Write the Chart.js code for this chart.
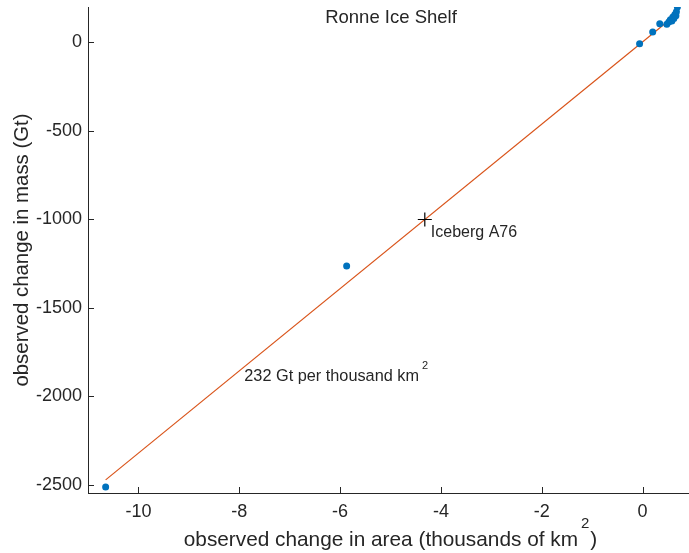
<!DOCTYPE html>
<html>
<head>
<meta charset="utf-8">
<script src="https://cdn.jsdelivr.net/npm/chart.js@4"></script>
<style>
  html, body { margin: 0; padding: 0; background: #fff; }
  canvas { display: block; }
</style>
</head>
<body>
<canvas id="iceChart" width="689" height="553"></canvas>
<script>
// observed changes, Ronne Ice Shelf
const areaChange = [-10.65, -5.87, -0.06, 0.20, 0.34, 0.48, 0.52, 0.55, 0.58, 0.60, 0.62, 0.64, 0.66, 0.67, 0.69];
const massChange = [-2511, -1264, -11, 56, 102, 100, 112, 125, 118, 140, 132, 155, 148, 170, 197];

// fitted line, 232 Gt per thousand km^2
const fitX = [-10.65, 0.69];
const fitY = [-2471, 160];

// iceberg A76
const bergX = [-4.32];
const bergY = [-1002];

const xTicks = [-10, -8, -6, -4, -2, 0];
const yTicks = [-2500, -2000, -1500, -1000, -500, 0];

const FONT = '"Liberation Sans", Arial, Helvetica, sans-serif';
const INK = '#262626';

function toPts(xs, ys) {
    return xs.map((x, i) => ({ x: x, y: ys[i] }));
}

// text with a trailing superscript
function drawSup(ctx, main, sup, tail, x, y, size, raise, align) {
    const supSize = Math.round(size * 0.7);
    ctx.font = size + 'px ' + FONT;
    const w1 = ctx.measureText(main).width + 3;
    const w3 = tail ? ctx.measureText(tail).width : 0;
    ctx.font = supSize + 'px ' + FONT;
    const w2 = ctx.measureText(sup).width + 1;
    const total = w1 + w2 + w3;
    let x0 = align === 'center' ? x - total / 2 : x;
    ctx.textAlign = 'left';
    ctx.textBaseline = 'middle';
    ctx.font = size + 'px ' + FONT;
    ctx.fillText(main, x0, y);
    ctx.font = supSize + 'px ' + FONT;
    ctx.fillText(sup, x0 + w1, y - raise);
    if (tail) {
        ctx.font = size + 'px ' + FONT;
        ctx.fillText(tail, x0 + w1 + w2, y);
    }
}

function noPad(s) {
    s.paddingTop = 0;
    s.paddingBottom = 0;
    s.paddingLeft = 0;
    s.paddingRight = 0;
}

const decorations = {
    id: 'decorations',
    afterDraw(chart) {
        const ctx = chart.ctx;
        const xs = chart.scales.x, ys = chart.scales.y;
        const area = chart.chartArea;
        ctx.save();
        // inward ticks
        ctx.strokeStyle = INK;
        ctx.lineWidth = 1;
        ctx.beginPath();
        xTicks.forEach(v => {
            const px = Math.round(xs.getPixelForValue(v)) + 0.5;
            ctx.moveTo(px, area.bottom);
            ctx.lineTo(px, area.bottom - 6);
        });
        yTicks.forEach(v => {
            const py = Math.round(ys.getPixelForValue(v)) + 0.5;
            ctx.moveTo(area.left, py);
            ctx.lineTo(area.left + 6, py);
        });
        ctx.stroke();

        ctx.fillStyle = INK;
        // title
        ctx.font = '18.5px ' + FONT;
        ctx.textAlign = 'center';
        ctx.textBaseline = 'middle';
        ctx.fillText('Ronne Ice Shelf', 391, 17.5);

        // y title
        ctx.save();
        ctx.translate(22, (area.top + area.bottom) / 2);
        ctx.rotate(-Math.PI / 2);
        ctx.font = '20.4px ' + FONT;
        ctx.textAlign = 'center';
        ctx.textBaseline = 'middle';
        ctx.fillText('observed change in mass (Gt)', 0, 0);
        ctx.restore();

        // x title
        drawSup(ctx, 'observed change in area (thousands of km', '2', ')',
            (area.left + area.right) / 2 + 2, 540, 20.8, 16, 'center');

        // annotations
        drawSup(ctx, '232 Gt per thousand km', '2', '',
            xs.getPixelForValue(-7.9), ys.getPixelForValue(-1888), 16.3, 11, 'left');
        ctx.font = '16px ' + FONT;
        ctx.textAlign = 'left';
        ctx.textBaseline = 'middle';
        ctx.fillText('Iceberg A76', xs.getPixelForValue(-4.20), ys.getPixelForValue(-1075));
        ctx.restore();
    }
};

new Chart(document.getElementById('iceChart'), {
    type: 'scatter',
    data: {
        datasets: [{
            label: 'fit',
            data: toPts(fitX, fitY),
            showLine: true,
            borderColor: '#D95319',
            borderWidth: 1.2,
            pointRadius: 0,
            order: 2
        }, {
            label: 'observations',
            data: toPts(areaChange, massChange),
            backgroundColor: '#0072BD',
            borderColor: '#0072BD',
            pointRadius: 3.5,
            borderWidth: 0,
            order: 1
        }, {
            label: 'Iceberg A76',
            data: toPts(bergX, bergY),
            pointStyle: 'cross',
            pointRadius: 7,
            borderColor: '#000',
            borderWidth: 1.2,
            order: 0
        }]
    },
    options: {
        responsive: false,
        animation: false,
        events: [],
        layout: { autoPadding: false, padding: { top: 7, right: 0, left: 0, bottom: 0 } },
        plugins: {
            legend: { display: false },
            tooltip: { enabled: false }
        },
        scales: {
            x: {
                type: 'linear',
                min: -11,
                max: 0.92,
                afterBuildTicks: s => { s.ticks = xTicks.map(v => ({ value: v })); },
                afterFit: s => { s.height = 60; noPad(s); },
                grid: { display: false, drawTicks: false },
                border: { display: true, color: INK, width: 1 },
                ticks: {
                    color: INK, font: { family: FONT, size: 18 }, padding: 8,
                    callback: v => String(v)
                }
            },
            y: {
                type: 'linear',
                min: -2545,
                max: 197,
                afterBuildTicks: s => { s.ticks = yTicks.map(v => ({ value: v })); },
                afterFit: s => { s.width = 88; noPad(s); },
                grid: { display: false, drawTicks: false },
                border: { display: true, color: INK, width: 1 },
                ticks: {
                    color: INK, font: { family: FONT, size: 18 }, padding: 6,
                    callback: v => String(v)
                }
            }
        }
    },
    plugins: [decorations]
});
</script>
</body>
</html>
